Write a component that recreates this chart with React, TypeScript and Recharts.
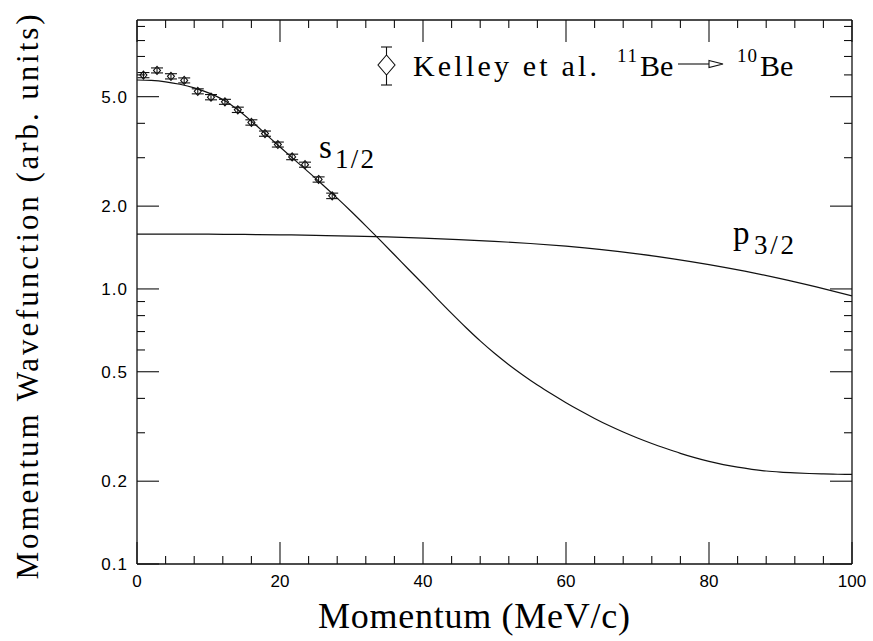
import React from 'react';
import { ComposedChart, Line, Scatter, ErrorBar, XAxis, YAxis } from 'recharts';

// Kelley et al. data points (11Be -> 10Be)
const kelleyP = [0.9, 2.8, 4.75, 6.6, 8.5, 10.35, 12.3, 14.1, 16.0, 17.9, 19.7, 21.7, 23.5, 25.4, 27.3];
const kelleyAmp = [5.99, 6.23, 5.93, 5.73, 5.23, 4.98, 4.79, 4.48, 4.03, 3.67, 3.35, 3.02, 2.83, 2.5, 2.18];
const kelleyErr = [0.13, 0.13, 0.13, 0.12, 0.11, 0.11, 0.1, 0.1, 0.09, 0.08, 0.07, 0.07, 0.06, 0.055, 0.05];

// s1/2 curve
const sP = [0, 2, 4, 6, 8, 10, 12, 14, 16, 18, 20, 22, 24, 26, 28, 30, 32, 34, 36, 38, 40, 42, 44, 46, 48, 50,
  52, 54, 56, 58, 60, 62, 64, 66, 68, 70, 72, 74, 76, 78, 80, 82, 84, 86, 88, 90, 92, 94, 96, 98, 100];
const sAmp = [5.75, 5.727, 5.659, 5.547, 5.383, 5.16, 4.879, 4.504, 4.075, 3.658, 3.281, 2.951, 2.659, 2.387,
  2.138, 1.908, 1.696, 1.504, 1.331, 1.177, 1.042, 0.9205, 0.8149, 0.7242, 0.6474, 0.5835, 0.5303, 0.4857,
  0.4474, 0.4147, 0.3858, 0.3605, 0.3382, 0.3186, 0.3018, 0.2871, 0.2742, 0.2629, 0.2526, 0.2436, 0.236,
  0.2299, 0.2249, 0.2209, 0.2178, 0.2158, 0.2144, 0.2133, 0.2125, 0.212, 0.2117];

// p3/2 curve
const pP = [0, 5, 10, 15, 20, 25, 30, 35, 40, 45, 50, 55, 60, 65, 70, 75, 80, 85, 90, 95, 100];
const pAmp = [1.582, 1.582, 1.581, 1.578, 1.573, 1.566, 1.557, 1.545, 1.53, 1.512, 1.49, 1.463, 1.43, 1.39,
  1.342, 1.287, 1.226, 1.16, 1.09, 1.017, 0.944];

const xTicks = [0, 4, 8, 12, 16, 20, 24, 28, 32, 36, 40, 44, 48, 52, 56, 60, 64, 68, 72, 76, 80, 84, 88, 92, 96, 100];
const xMajor = [0, 20, 40, 60, 80, 100];
const yTicks = [0.1, 0.2, 0.3, 0.4, 0.5, 0.6, 0.7, 0.8, 0.9, 1, 2, 3, 4, 5, 6, 7, 8, 9];
const yLabels: Record<string, string> = { '0.1': '0.1', '0.2': '0.2', '0.5': '0.5', '1': '1.0', '2': '2.0', '5': '5.0' };

const kelleyData = kelleyP.map((x, i) => ({ x, y: kelleyAmp[i], err: kelleyErr[i] }));
const sData = sP.map((x, i) => ({ x, y: sAmp[i] }));
const pData = pP.map((x, i) => ({ x, y: pAmp[i] }));

const ink = '#111';
const serif = "'Liberation Serif', serif";
const numFont = "'Liberation Sans', sans-serif";
const MAJOR = 22;
const MINOR = 8;

const BottomTick = (props: any) => {
  const { x, y, payload } = props;
  const major = xMajor.includes(payload.value);
  return (
    <g>
      <line x1={x} x2={x} y1={y} y2={y - (major ? MAJOR : MINOR)} stroke={ink} strokeWidth={1.1} />
      {major && (
        <text x={x} y={y + 23} textAnchor="middle" fontSize={17} fontFamily={numFont} fill="#000">
          {payload.value}
        </text>
      )}
    </g>
  );
};

const TopTick = (props: any) => {
  const { x, y, payload } = props;
  const major = xMajor.includes(payload.value);
  return <line x1={x} x2={x} y1={y} y2={y + (major ? MAJOR : MINOR)} stroke={ink} strokeWidth={1.1} />;
};

const LeftTick = (props: any) => {
  const { x, y, payload } = props;
  const lab = yLabels[String(payload.value)];
  return (
    <g>
      <line x1={x} x2={x + (lab ? MAJOR : MINOR)} y1={y} y2={y} stroke={ink} strokeWidth={1.1} />
      {lab && (
        <text x={x - 9} y={y + 6} textAnchor="end" fontSize={17} fontFamily={numFont} fill="#000" letterSpacing={1}>
          {lab}
        </text>
      )}
    </g>
  );
};

const RightTick = (props: any) => {
  const { x, y, payload } = props;
  const lab = yLabels[String(payload.value)];
  return <line x1={x} x2={x - (lab ? MAJOR : MINOR)} y1={y} y2={y} stroke={ink} strokeWidth={1.1} />;
};

const Diamond = (props: any) => {
  const { cx, cy } = props;
  if (cx == null || cy == null) return null;
  return (
    <path
      d={`M${cx},${cy - 4} L${cx + 3.5},${cy} L${cx},${cy + 4} L${cx - 3.5},${cy} Z`}
      fill="none"
      stroke={ink}
      strokeWidth={1.1}
    />
  );
};

export default function App() {
  return (
    <div style={{ position: 'absolute', left: 0, top: 0, width: 873, height: 641, background: '#fff' }}>
      <ComposedChart width={873} height={641} margin={{ top: 19, right: 20, left: 0, bottom: 0 }}>
        <XAxis
          xAxisId="b"
          dataKey="x"
          type="number"
          domain={[0, 100]}
          allowDataOverflow
          ticks={xTicks}
          interval={0}
          height={77}
          tickSize={0}
          tickMargin={0}
          tickLine={false}
          axisLine={{ stroke: ink, strokeWidth: 1.3 }}
          tick={BottomTick}
        />
        <XAxis
          xAxisId="t"
          orientation="top"
          dataKey="x"
          type="number"
          domain={[0, 100]}
          allowDataOverflow
          ticks={xTicks}
          interval={0}
          height={1}
          tickSize={0}
          tickMargin={0}
          tickLine={false}
          axisLine={{ stroke: ink, strokeWidth: 1.3 }}
          tick={TopTick}
        />
        <YAxis
          yAxisId="l"
          type="number"
          scale="log"
          domain={[0.1, 9.5]}
          allowDataOverflow
          ticks={yTicks}
          interval={0}
          width={137}
          tickSize={0}
          tickMargin={0}
          tickLine={false}
          axisLine={{ stroke: ink, strokeWidth: 1.3 }}
          tick={LeftTick}
        />
        <YAxis
          yAxisId="r"
          orientation="right"
          type="number"
          scale="log"
          domain={[0.1, 9.5]}
          allowDataOverflow
          ticks={yTicks}
          interval={0}
          width={1}
          tickSize={0}
          tickMargin={0}
          tickLine={false}
          axisLine={{ stroke: ink, strokeWidth: 1.3 }}
          tick={RightTick}
        />
        {/* invisible series so the top and right frame axes get a scale */}
        <Line
          xAxisId="t"
          yAxisId="r"
          data={pData}
          dataKey="y"
          dot={false}
          stroke="none"
          isAnimationActive={false}
        />
        <Line
          xAxisId="b"
          yAxisId="l"
          data={sData}
          dataKey="y"
          type="monotone"
          dot={false}
          stroke={ink}
          strokeWidth={1.2}
          isAnimationActive={false}
        />
        <Line
          xAxisId="b"
          yAxisId="l"
          data={pData}
          dataKey="y"
          type="monotone"
          dot={false}
          stroke={ink}
          strokeWidth={1.2}
          isAnimationActive={false}
        />
        <Scatter
          xAxisId="b"
          yAxisId="l"
          data={kelleyData}
          dataKey="y"
          shape={Diamond}
          isAnimationActive={false}
        >
          <ErrorBar dataKey="err" direction="y" width={6} stroke={ink} strokeWidth={1.1} isAnimationActive={false} />
        </Scatter>
      </ComposedChart>

      <svg
        width={873}
        height={641}
        style={{ position: 'absolute', left: 0, top: 0, pointerEvents: 'none' }}
      >
        {/* axis titles */}
        <text
          x={474}
          y={628}
          textAnchor="middle"
          fontSize={36}
          fontFamily={serif}
          textLength={312}
          lengthAdjust="spacing"
          fill="#000"
        >
          Momentum (MeV/c)
        </text>
        <text
          transform="translate(38,297) rotate(-90)"
          textAnchor="middle"
          fontSize={31}
          fontFamily={serif}
          textLength={565}
          lengthAdjust="spacing"
          fill="#000"
        >
          Momentum Wavefunction (arb. units)
        </text>

        {/* curve labels */}
        <text x={319} y={158} fontSize={33} fontFamily={serif} fill="#000">s</text>
        <text x={335} y={168} fontSize={27} fontFamily={serif} textLength={39} lengthAdjust="spacing" fill="#000">1/2</text>
        <text x={733} y={244} fontSize={33} fontFamily={serif} fill="#000">p</text>
        <text x={754} y={254} fontSize={27} fontFamily={serif} textLength={40} lengthAdjust="spacing" fill="#000">3/2</text>

        {/* legend */}
        <line x1={386.5} x2={386.5} y1={47} y2={85} stroke={ink} strokeWidth={1.1} />
        <line x1={381} x2={392} y1={47} y2={47} stroke={ink} strokeWidth={1.1} />
        <line x1={381} x2={392} y1={85} y2={85} stroke={ink} strokeWidth={1.1} />
        <path d="M386.5,55 L395,65 L386.5,75 L378,65 Z" fill="#fff" stroke={ink} strokeWidth={1.1} />
        <text x={413} y={76} fontSize={30} fontFamily={serif} textLength={184} lengthAdjust="spacing" fill="#000">
          Kelley et al.
        </text>
        <text x={617} y={62} fontSize={19} fontFamily={serif} textLength={20} lengthAdjust="spacing" fill="#000">11</text>
        <text x={640} y={76} fontSize={30} fontFamily={serif} fill="#000">Be</text>
        <line x1={678} x2={709} y1={64} y2={64} stroke={ink} strokeWidth={1.1} />
        <path d="M709,60.5 L723,64 L709,67.5 Z" fill="#fff" stroke={ink} strokeWidth={1.1} />
        <text x={737} y={62} fontSize={19} fontFamily={serif} textLength={20} lengthAdjust="spacing" fill="#000">10</text>
        <text x={760} y={76} fontSize={30} fontFamily={serif} fill="#000">Be</text>
      </svg>
    </div>
  );
}
